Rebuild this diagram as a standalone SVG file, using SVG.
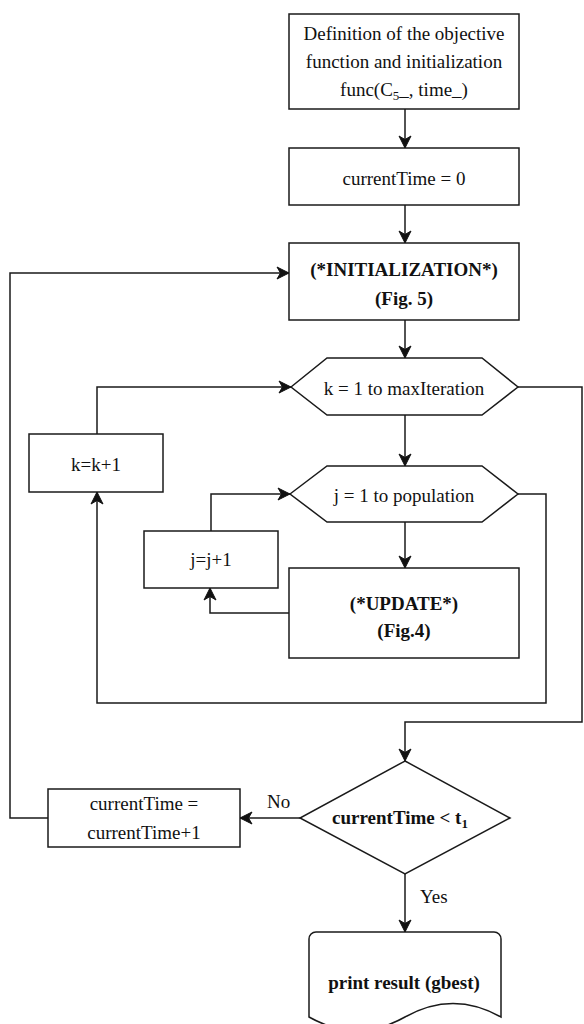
<svg xmlns="http://www.w3.org/2000/svg" width="584" height="1024" viewBox="0 0 584 1024">
<style>
.n{fill:#fff;stroke:#1a1a1a;stroke-width:1.5}
.t{font-family:"Liberation Serif","Times New Roman",serif;font-size:19px;fill:#111;text-anchor:middle}
.b{font-weight:bold}
.c{fill:none;stroke:#1a1a1a;stroke-width:1.5}
.l{font-family:"Liberation Serif","Times New Roman",serif;font-size:19px;fill:#111}
</style>
<defs>
<marker id="a" markerUnits="userSpaceOnUse" markerWidth="14" markerHeight="14" viewBox="-13 -7 14 14" refX="0" refY="0" orient="auto">
<path d="M0,0 L-12,-6 L-8.5,0 L-12,6 Z" fill="#111" stroke="#111" stroke-width="1"/>
</marker>
</defs>
<rect width="584" height="1024" fill="#fff"/>
<g id="connectors">
<path class="c" d="M405,109 V148" marker-end="url(#a)"/>
<path class="c" d="M405,205 V243" marker-end="url(#a)"/>
<path class="c" d="M405,320 V358" marker-end="url(#a)"/>
<path class="c" d="M405,415 V466" marker-end="url(#a)"/>
<path class="c" d="M405,522 V568" marker-end="url(#a)"/>
<path class="c" d="M289,613 H210 V588" marker-end="url(#a)"/>
<path class="c" d="M211,531 V494 H290" marker-end="url(#a)"/>
<path class="c" d="M518,494 H546 V703 H97 V492" marker-end="url(#a)"/>
<path class="c" d="M97,434 V387 H291" marker-end="url(#a)"/>
<path class="c" d="M518,387 H582 V722 H405 V761" marker-end="url(#a)"/>
<path class="c" d="M300,818 H240" marker-end="url(#a)"/>
<path class="c" d="M48,818 H10 V273 H289" marker-end="url(#a)"/>
<path class="c" d="M405,874 V932" marker-end="url(#a)"/>
<text class="l" x="267" y="808">No</text>
<text class="l" x="420" y="903">Yes</text>
</g>
<g id="n1">
<rect class="n" x="289" y="14" width="230" height="95"/>
<text class="t" x="404" y="40">Definition of the objective</text>
<text class="t" x="404" y="68">function and initialization</text>
<text class="t" x="404" y="96">func(C<tspan dy="4" font-size="13">5</tspan><tspan dy="-4">_, time_)</tspan></text>
</g>
<g id="n2">
<rect class="n" x="289" y="148" width="230" height="57"/>
<text class="t" x="404" y="185">currentTime = 0</text>
</g>
<g id="n3">
<rect class="n" x="289" y="243" width="230" height="77"/>
<text class="t b" x="404" y="276">(*INITIALIZATION*)</text>
<text class="t b" x="404" y="305">(Fig. 5)</text>
</g>
<g id="n4">
<polygon class="n" points="291,387 327,358 482,358 518,387 482,415 327,415"/>
<text class="t" x="404" y="395">k = 1 to maxIteration</text>
</g>
<g id="n5">
<rect class="n" x="29" y="434" width="134" height="58"/>
<text class="t" x="96" y="471">k=k+1</text>
</g>
<g id="n6">
<polygon class="n" points="290,494 327,466 482,466 518,494 482,522 327,522"/>
<text class="t" x="404" y="502">j = 1 to population</text>
</g>
<g id="n7">
<rect class="n" x="144" y="531" width="134" height="57"/>
<text class="t" x="211" y="566">j=j+1</text>
</g>
<g id="n8">
<rect class="n" x="289" y="568" width="230" height="90"/>
<text class="t b" x="404" y="610">(*UPDATE*)</text>
<text class="t b" x="404" y="637">(Fig.4)</text>
</g>
<g id="n9">
<polygon class="n" points="405,761 510,818 405,874 300,818"/>
<text class="t b" x="400" y="824">currentTime &lt; t<tspan dy="4" font-size="13">1</tspan></text>
</g>
<g id="n10">
<rect class="n" x="48" y="789" width="192" height="58"/>
<text class="t" x="144" y="810">currentTime =</text>
<text class="t" x="144" y="839">currentTime+1</text>
</g>
<g id="n11">
<path class="n" d="M316,932 H494 A7,7 0 0 1 501,939 V1017 Q453,990 405,1017 Q357,1044 309,1017 V939 A7,7 0 0 1 316,932 Z"/>
<text class="t b" x="404" y="989">print result (gbest)</text>
</g>
</svg>
